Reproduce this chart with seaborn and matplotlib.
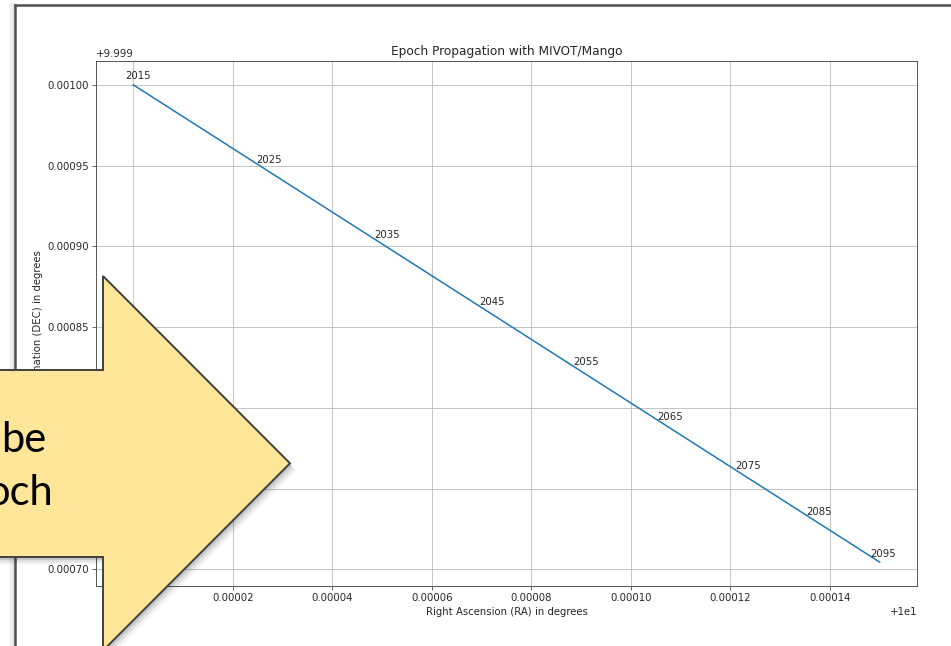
import matplotlib
matplotlib.use("Agg")
import matplotlib.pyplot as plt
from matplotlib.patches import Polygon
from matplotlib.lines import Line2D
import seaborn as sns
import pandas as pd

# Propagated track of the source (degrees)
ra_track = [10.0, 10.00015]
dec_track = [10.0, 9.9997045]

# Epoch labels and where they are written
epochs = [2015, 2025, 2035, 2045, 2055, 2065, 2075, 2085, 2095]
label_ra = [9.99999845, 10.00002469, 10.00004844, 10.00006946, 10.00008834,
            10.00010526, 10.00012092, 10.00013517, 10.00014816]
label_dec = [10.0000036, 9.9999515, 9.9999049, 9.9998635, 9.9998263,
             9.9997927, 9.9997619, 9.9997337, 9.9997079]

title = "Epoch Propagation with MIVOT/Mango"
xlabel = "Right Ascension (RA) in degrees"
ylabel = "Declination (DEC) in degrees"
callout_lines = ["be", "och"]

W, H = 951, 646
s = 0.73  # scale of the embedded chart
ink = "#262626"

plt.rcParams.update({
    "font.family": ["DejaVu Sans"],
    "font.size": 10 * s,
    "axes.titlesize": 12 * s,
    "axes.labelsize": 10 * s,
    "xtick.labelsize": 10 * s,
    "ytick.labelsize": 10 * s,
    "axes.linewidth": 0.9 * s,
    "axes.edgecolor": "#4a4a4a",
    "text.color": ink,
    "axes.labelcolor": ink,
    "xtick.color": "#4a4a4a",
    "ytick.color": "#4a4a4a",
    "xtick.labelcolor": ink,
    "ytick.labelcolor": ink,
    "grid.linewidth": 0.8 * s,
    "xtick.major.size": 3.5 * s,
    "ytick.major.size": 3.5 * s,
    "xtick.major.width": 0.8 * s,
    "ytick.major.width": 0.8 * s,
    "xtick.major.pad": 3.5 * s,
    "ytick.major.pad": 3.5 * s,
    "axes.titlepad": 6 * s,
    "axes.labelpad": 4 * s,
})

fig = plt.figure(figsize=(W / 100, H / 100), dpi=100)
fig.patch.set_facecolor("white")


def fx(px):
    return px / W


def fy(py):
    return 1 - py / H


ax = fig.add_axes([fx(96), fy(586), (917 - 96) / W, (586 - 61) / H])

df = pd.DataFrame({"ra": ra_track, "dec": dec_track})
sns.lineplot(data=df, x="ra", y="dec", ax=ax, color="#1f77b4",
             linewidth=1.5 * s, sort=False)

for ra, dec, ep in zip(label_ra, label_dec, epochs):
    ax.text(ra, dec, str(ep), fontsize=10 * s, color=ink)

ax.grid(True, color="#b8b8b8", linewidth=0.8 * s)
ax.set_title(title)
ax.set_xlabel(xlabel)
ax.set_ylabel(ylabel)

# Picture frame with a soft shadow on the left
for off, a in [(5, 0.04), (3, 0.07), (1.5, 0.1)]:
    fig.add_artist(Line2D([fx(15 - off), fx(15 - off)], [fy(5 - off / 2), 0],
                          transform=fig.transFigure, color="black", alpha=a,
                          lw=1.5))
fig.add_artist(Line2D([fx(15), fx(15)], [fy(5), 0], transform=fig.transFigure,
                      color="#505050", lw=1.8))
fig.add_artist(Line2D([fx(15), 1], [fy(5), fy(5)], transform=fig.transFigure,
                      color="#505050", lw=1.8))

# Call-out arrow
arrow_px = [(-10, 370), (103, 370), (103, 276), (290, 463.3), (103, 650.6),
            (103, 557), (-10, 557)]
for dx, dy, a in [(6, 7, 0.05), (4, 5, 0.07), (2, 3, 0.11)]:
    shadow = Polygon([(fx(x + dx), fy(y + dy)) for x, y in arrow_px],
                     closed=True, transform=fig.transFigure, facecolor="black",
                     edgecolor="none", alpha=a, zorder=9)
    fig.add_artist(shadow)
arrow = Polygon([(fx(x), fy(y)) for x, y in arrow_px], closed=True,
                transform=fig.transFigure, facecolor="#FFE699",
                edgecolor="#404040", linewidth=1.4, zorder=10)
fig.add_artist(arrow)

fig.text(fx(46), fy(451.7), callout_lines[0], ha="right", va="baseline",
         fontsize=30, family=["Lato", "DejaVu Sans"], color="black", zorder=11)
fig.text(fx(53), fy(505), callout_lines[1], ha="right", va="baseline",
         fontsize=30, family=["Lato", "DejaVu Sans"], color="black", zorder=11)

fig.savefig("out.png", dpi=100)
